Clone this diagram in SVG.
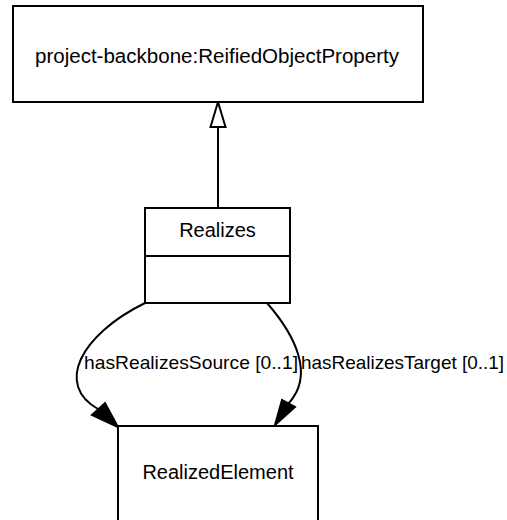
<svg xmlns="http://www.w3.org/2000/svg" width="507" height="520" viewBox="0 0 507 520">
<style>
.box{fill:#fff;stroke:#000;stroke-width:2}
.t{font-family:"Liberation Sans",Arial,sans-serif;font-size:20px;fill:#000}
.l{font-size:19px}
.c{text-anchor:middle}
.e{fill:none;stroke:#000;stroke-width:2}
</style>
<rect width="507" height="520" fill="#fff"/>
<g id="connectors">
<path class="e" d="M218,127 L218,208"/>
<polygon points="218,102 210.5,127 225.5,127" fill="#fff" stroke="#000" stroke-width="2"/>
<path class="e" d="M145,303 C80,335 55,385 98,409"/>
<polygon points="118,427 92,415 105,403" fill="#000" stroke="#000" stroke-width="2"/>
<text class="t l" x="84" y="369" textLength="214" lengthAdjust="spacingAndGlyphs">hasRealizesSource [0..1]</text>
<path class="e" d="M267,303 C295,335 315,375 288.5,403.5"/>
<polygon points="275,425 282,400 295,407" fill="#000" stroke="#000" stroke-width="2"/>
<text class="t l" x="301" y="369" textLength="203" lengthAdjust="spacingAndGlyphs">hasRealizesTarget [0..1]</text>
</g>
<g id="ReifiedObjectProperty">
<rect class="box" x="13" y="6" width="410" height="96"/>
<text class="t c" x="217" y="63" textLength="364" lengthAdjust="spacingAndGlyphs">project-backbone:ReifiedObjectProperty</text>
</g>
<g id="Realizes">
<rect class="box" x="145" y="208" width="145" height="95"/>
<line x1="145" y1="256" x2="290" y2="256" stroke="#000" stroke-width="2"/>
<text class="t c" x="217.5" y="237">Realizes</text>
</g>
<g id="RealizedElement">
<rect class="box" x="118" y="426" width="200" height="120"/>
<text class="t c" x="218" y="479">RealizedElement</text>
</g>
</svg>
